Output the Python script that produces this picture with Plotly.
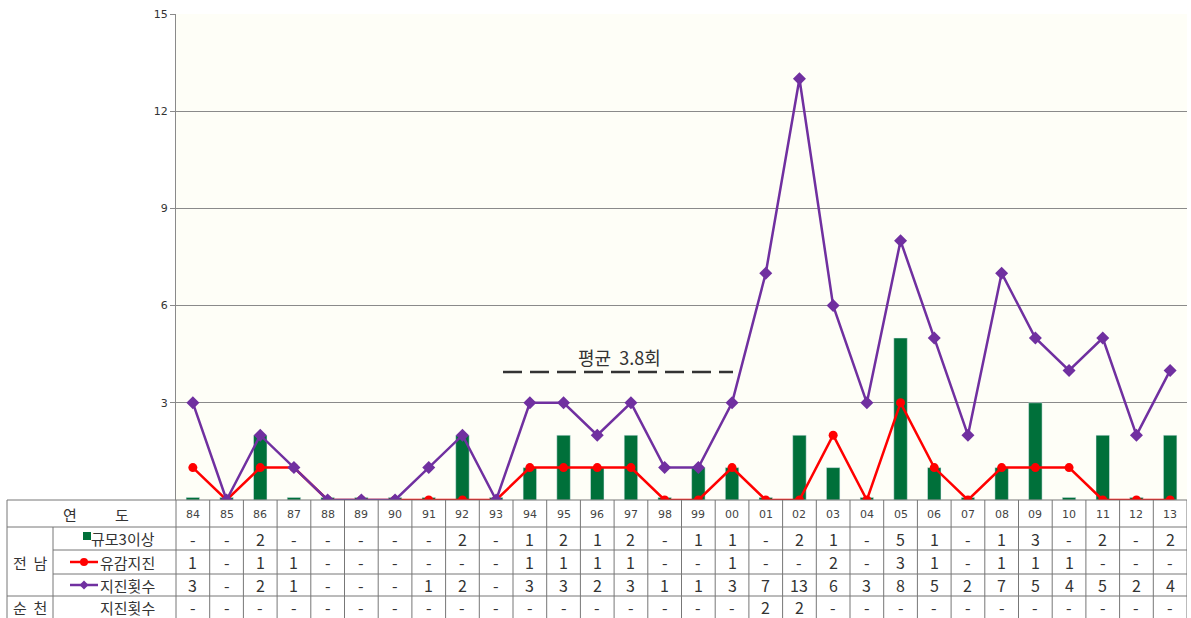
import plotly.graph_objects as go

W, H = 1191, 618

years = ["84", "85", "86", "87", "88", "89", "90", "91", "92", "93", "94", "95", "96", "97", "98",
         "99", "00", "01", "02", "03", "04", "05", "06", "07", "08", "09", "10", "11", "12", "13"]
quake_m3 = [0, 0, 2, 0, 0, 0, 0, 0, 2, 0, 1, 2, 1, 2, 0, 1, 1, 0, 2, 1, 0, 5, 1, 0, 1, 3, 0, 2, 0, 2]
felt = [1, 0, 1, 1, 0, 0, 0, 0, 0, 0, 1, 1, 1, 1, 0, 0, 1, 0, 0, 2, 0, 3, 1, 0, 1, 1, 1, 0, 0, 0]
total = [3, 0, 2, 1, 0, 0, 0, 1, 2, 0, 3, 3, 2, 3, 1, 1, 3, 7, 13, 6, 3, 8, 5, 2, 7, 5, 4, 5, 2, 4]
suncheon = [0, 0, 0, 0, 0, 0, 0, 0, 0, 0, 0, 0, 0, 0, 0, 0, 0, 2, 2, 0, 0, 0, 0, 0, 0, 0, 0, 0, 0, 0]
y_ticks = [3, 6, 9, 12, 15]
avg_label = "평균  3.8회"
avg_level = 3.95

GREEN = "#00703A"
RED = "#FF0000"
PURPLE = "#7030A0"
LINE = "#8A8A8A"
FONT = "Noto Sans CJK KR"

xs = list(range(len(years)))


def px(x):
    return x / W


def py(y):
    return 1 - y / H


fig = go.Figure()
fig.add_trace(go.Bar(x=xs, y=[v if v else 0.08 for v in quake_m3], marker_color=GREEN,
                     width=0.4, showlegend=False, hoverinfo="skip"))
fig.add_trace(go.Scatter(x=xs, y=felt, mode="lines+markers", line=dict(color=RED, width=2.5),
                         marker=dict(symbol="circle", size=9, color=RED), showlegend=False))
fig.add_trace(go.Scatter(x=xs, y=total, mode="lines+markers", line=dict(color=PURPLE, width=2.5),
                         marker=dict(symbol="diamond", size=10, color=PURPLE), showlegend=False))

X0, X1 = 176, 1187
Y0, Y1 = 500, 14
fig.update_layout(
    width=W, height=H, margin=dict(l=0, r=0, t=0, b=0, pad=0, autoexpand=False),
    paper_bgcolor="white", plot_bgcolor="#FEFEF7",
    xaxis=dict(domain=[px(X0), px(X1)], range=[-0.5, len(years) - 0.5], showticklabels=False,
               showgrid=False, zeroline=False, showline=False, fixedrange=True, automargin=False),
    yaxis=dict(domain=[py(Y0), py(Y1)], range=[0, 15], tickvals=y_ticks, showgrid=True,
               gridcolor=LINE, gridwidth=1, zeroline=False, showline=True, linecolor=LINE,
               ticks="outside", ticklen=5, tickcolor=LINE, automargin=False,
               tickfont=dict(family="DejaVu Sans", size=11, color="#333")),
    bargap=0.6,
)

shapes = []
ann = []


def text(x, y, t, size=15, family=FONT, color="#333", xref="paper"):
    ann.append(dict(xref=xref, yref="paper", x=x, y=py(y), text=t, showarrow=False,
                    xanchor="center", yanchor="middle",
                    font=dict(family=family, size=size, color=color)))


# average line and label
shapes.append(dict(type="line", xref="paper", yref="y", x0=px(503), x1=px(733), y0=avg_level, y1=avg_level,
                   line=dict(color="#333", width=2.5, dash="19px,8px")))
text(px(619), 357, avg_label.replace("  ", "&nbsp;&nbsp;"), size=18)

# table geometry
TL = 7
C1 = 53
lc = "#777"


def hline(y, xa):
    shapes.append(dict(type="line", xref="paper", yref="paper", x0=px(xa), x1=px(X1), y0=py(y), y1=py(y),
                       line=dict(color=lc, width=1)))


hline(500, TL)
hline(527, TL)
hline(550, C1)
hline(574, C1)
hline(596, TL)
for xv in [TL, X0]:
    shapes.append(dict(type="line", xref="paper", yref="paper", x0=px(xv), x1=px(xv), y0=py(500), y1=0,
                       line=dict(color=lc, width=1)))
shapes.append(dict(type="line", xref="paper", yref="paper", x0=px(C1), x1=px(C1), y0=py(527), y1=0,
                   line=dict(color=lc, width=1)))
for i in range(len(years)):
    shapes.append(dict(type="line", xref="x", yref="paper", x0=i + 0.5, x1=i + 0.5, y0=py(500), y1=0,
                       line=dict(color=lc, width=1)))

# header texts
text(px(70), 514, "연")
text(px(122), 514, "도")
text(px(30), 562, "전  남".replace(" ", "&nbsp;"))
text(px(30), 607, "순  천".replace(" ", "&nbsp;"))
row_labels = [("규모3이상", 123, 538.5), ("유감지진", 127, 562), ("지진횟수", 127, 585), ("지진횟수", 127, 607)]
for t, x, y in row_labels:
    text(px(x), y, t)

# legend symbols in table
shapes.append(dict(type="rect", xref="paper", yref="paper", x0=px(83), x1=px(91), y0=py(540), y1=py(532),
                   fillcolor=GREEN, line=dict(width=0)))
for y, col in [(562, RED), (585, PURPLE)]:
    shapes.append(dict(type="line", xref="paper", yref="paper", x0=px(70), x1=px(98), y0=py(y), y1=py(y),
                       line=dict(color=col, width=2.5)))
shapes.append(dict(type="circle", xref="paper", yref="paper", x0=px(80), x1=px(88), y0=py(566), y1=py(558),
                   fillcolor=RED, line=dict(width=0)))
shapes.append(dict(type="path", xref="paper", yref="paper",
                   path=f"M {px(84)},{py(580.5)} L {px(88.5)},{py(585)} L {px(84)},{py(589.5)} L {px(79.5)},{py(585)} Z",
                   fillcolor=PURPLE, line=dict(width=0)))

# year & value cells
row_vals = [(quake_m3, 538.5), (felt, 562), (total, 585), (suncheon, 607)]
for i, yr in enumerate(years):
    text(i, 514, yr, size=11, family="DejaVu Sans", color="#444", xref="x")
    for vals, y in row_vals:
        v = vals[i]
        text(i, y, str(v) if v else "-", size=16, xref="x")

fig.update_layout(shapes=shapes, annotations=ann)
fig.write_html("out.html", post_script="document.body.style.margin='0';",
               config={"displayModeBar": False})
